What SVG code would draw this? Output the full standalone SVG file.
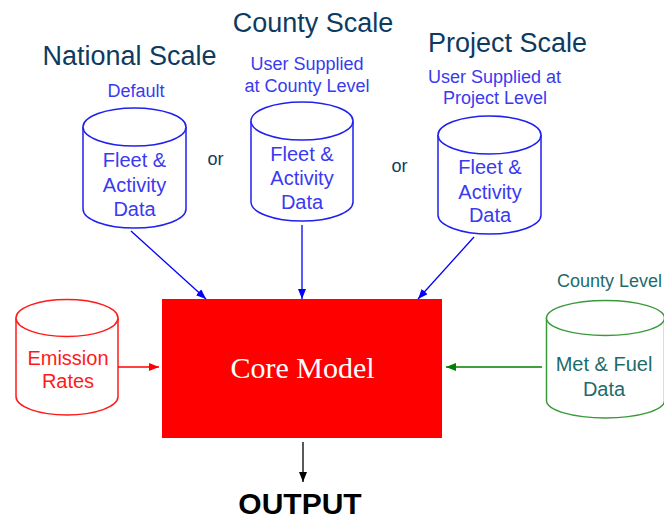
<svg xmlns="http://www.w3.org/2000/svg" width="664" height="520" viewBox="0 0 664 520">
<style>
.scale{font-family:"Liberation Sans",Arial,sans-serif;font-size:27px;fill:#0f3a5f;text-anchor:middle}
.sub{font-family:"Liberation Sans",Arial,sans-serif;font-size:18px;fill:#3a3af0;text-anchor:middle}
.lbl{font-family:"Liberation Sans",Arial,sans-serif;font-size:20px;text-anchor:middle}
.blue{fill:#3a3af0}
.or{font-family:"Liberation Sans",Arial,sans-serif;font-size:18px;fill:#0f3a5f;text-anchor:middle}
.cylb{fill:#fff;stroke:#2020f0;stroke-width:1.5}
.cylr{fill:#fff;stroke:#ff1a1a;stroke-width:1.5}
.cylg{fill:#fff;stroke:#3a9a3a;stroke-width:1.5}
</style>
<defs>
<marker id="ab" markerUnits="userSpaceOnUse" markerWidth="10" markerHeight="8" refX="10" refY="4" orient="auto"><path d="M0,0 L10,4 L0,8 z" fill="#0000ff"/></marker>
<marker id="ar" markerUnits="userSpaceOnUse" markerWidth="10" markerHeight="8" refX="10" refY="4" orient="auto"><path d="M0,0 L10,4 L0,8 z" fill="#ff0000"/></marker>
<marker id="ag" markerUnits="userSpaceOnUse" markerWidth="10" markerHeight="8" refX="10" refY="4" orient="auto"><path d="M0,0 L10,4 L0,8 z" fill="#008000"/></marker>
<marker id="ak" markerUnits="userSpaceOnUse" markerWidth="10" markerHeight="8" refX="10" refY="4" orient="auto"><path d="M0,0 L10,4 L0,8 z" fill="#000"/></marker>
</defs>
<rect width="664" height="520" fill="#fff"/>

<g id="titles">
<text class="scale" x="129.5" y="65">National Scale</text>
<text class="scale" x="313" y="32">County Scale</text>
<text class="scale" x="507.5" y="52">Project Scale</text>
<text class="sub" x="136" y="97">Default</text>
<text class="sub" x="307" y="70">User Supplied</text>
<text class="sub" x="307" y="92">at County Level</text>
<text class="sub" x="494.5" y="83">User Supplied at</text>
<text class="sub" x="495" y="104">Project Level</text>
<text class="or" x="215.5" y="165">or</text>
<text class="or" x="399.5" y="172">or</text>
</g>

<g id="national">
<path class="cylb" d="M83,127 V209 A51.5,19 0 0 0 186,209 V127"/>
<ellipse class="cylb" cx="134.5" cy="127" rx="51.5" ry="19"/>
<text class="lbl blue" x="134.5" y="167">Fleet &amp;</text>
<text class="lbl blue" x="134.5" y="192">Activity</text>
<text class="lbl blue" x="134.5" y="216">Data</text>
</g>

<g id="county">
<path class="cylb" d="M251,121 V202 A51,19 0 0 0 353,202 V121"/>
<ellipse class="cylb" cx="302" cy="121" rx="51" ry="19"/>
<text class="lbl blue" x="302" y="161">Fleet &amp;</text>
<text class="lbl blue" x="302" y="185">Activity</text>
<text class="lbl blue" x="302" y="209">Data</text>
</g>

<g id="project">
<path class="cylb" d="M438,135 V215 A51.5,19 0 0 0 541,215 V135"/>
<ellipse class="cylb" cx="489.5" cy="135" rx="51.5" ry="19"/>
<text class="lbl blue" x="490" y="174">Fleet &amp;</text>
<text class="lbl blue" x="490" y="199">Activity</text>
<text class="lbl blue" x="490" y="222">Data</text>
</g>

<g id="emission">
<path class="cylr" d="M16,318 V396.5 A51,18.5 0 0 0 118,396.5 V318"/>
<ellipse class="cylr" cx="67" cy="318" rx="51" ry="18.5"/>
<text class="lbl" fill="#ff1a1a" x="68" y="365">Emission</text>
<text class="lbl" fill="#ff1a1a" x="68" y="388">Rates</text>
</g>

<g id="core">
<rect x="162" y="299" width="280" height="139" fill="#ff0000"/>
<text x="302.5" y="378" font-family="'Liberation Serif','Times New Roman',serif" font-size="30" fill="#fff" text-anchor="middle">Core Model</text>
</g>

<g id="met">
<text class="sub" style="fill:#1d6b6b" x="609.5" y="287">County Level</text>
<path class="cylg" d="M546.5,318 V400.5 A59,17.5 0 0 0 664.5,400.5 V318"/>
<ellipse class="cylg" cx="605.5" cy="318" rx="59" ry="17.5"/>
<text class="lbl" fill="#1d6b6b" x="604" y="371">Met &amp; Fuel</text>
<text class="lbl" fill="#1d6b6b" x="604" y="396">Data</text>
</g>

<g id="output">
<text x="300" y="514" font-family="'Liberation Sans',Arial,sans-serif" font-size="30" font-weight="bold" fill="#000" text-anchor="middle">OUTPUT</text>
</g>

<g id="connectors" fill="none" stroke-width="1.3">
<line x1="131" y1="231" x2="206" y2="299" stroke="#0000ff" marker-end="url(#ab)"/>
<line x1="302" y1="225" x2="302" y2="299" stroke="#0000ff" marker-end="url(#ab)"/>
<line x1="474" y1="237" x2="418" y2="299" stroke="#0000ff" marker-end="url(#ab)"/>
<line x1="118" y1="367" x2="159" y2="367" stroke="#ff0000" marker-end="url(#ar)"/>
<line x1="542" y1="367" x2="446" y2="367" stroke="#008000" marker-end="url(#ag)"/>
<line x1="303" y1="442" x2="303" y2="482" stroke="#000" marker-end="url(#ak)"/>
</g>
</svg>
